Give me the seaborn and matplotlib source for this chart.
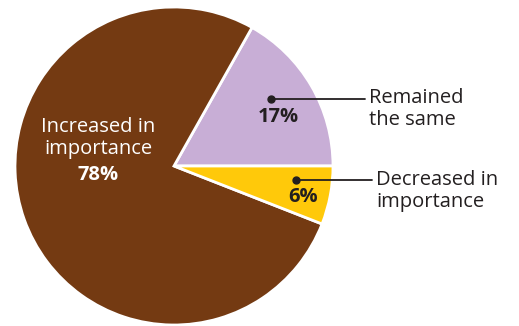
import seaborn as sns
import matplotlib.pyplot as plt

labels = ["Remained\nthe same", "Increased in\nimportance", "Decreased in\nimportance"]
shares = [17, 78, 6]
pct_text = ["17%", "78%", "6%"]
colors = ["#C8AED6", "#743A12", "#FFC90A"]

sns.set_theme(style="white")
plt.rcParams["font.family"] = ["Open Sans", "DejaVu Sans"]

fig = plt.figure(figsize=(5.19, 3.26), dpi=100)
ax = fig.add_axes([0, 0, 1, 1])
H = 326

ax.pie(shares, colors=colors, startangle=0, counterclock=True,
       center=(174, H - 166), radius=159, frame=True,
       wedgeprops=dict(edgecolor="white", linewidth=2))
ax.set_xlim(0, 519)
ax.set_ylim(0, H)
ax.set_aspect("equal")
ax.axis("off")

dark = "#231F20"
fs = 14.5
ls = 1.08

# brown slice label
ax.text(98, H - 138, labels[1], ha="center", va="center", color="white",
        fontsize=fs, linespacing=ls)
ax.text(98, H - 175, pct_text[1], ha="center", va="center", color="white",
        fontsize=fs, fontweight="bold")

# purple slice callout
ax.plot([271, 365], [H - 99, H - 99], color=dark, lw=1.3)
ax.plot(271, H - 99, "o", color=dark, ms=5)
ax.text(278, H - 117, pct_text[0], ha="center", va="center", color=dark,
        fontsize=fs, fontweight="bold")
ax.text(369, H - 109, labels[0], ha="left", va="center", color=dark,
        fontsize=fs, linespacing=ls)

# yellow slice callout
ax.plot([296, 372], [H - 180, H - 180], color=dark, lw=1.3)
ax.plot(296, H - 180, "o", color=dark, ms=5)
ax.text(303, H - 197, pct_text[2], ha="center", va="center", color=dark,
        fontsize=fs, fontweight="bold")
ax.text(376, H - 191, labels[2], ha="left", va="center", color=dark,
        fontsize=fs, linespacing=ls)

plt.savefig("out.png", dpi=100)
